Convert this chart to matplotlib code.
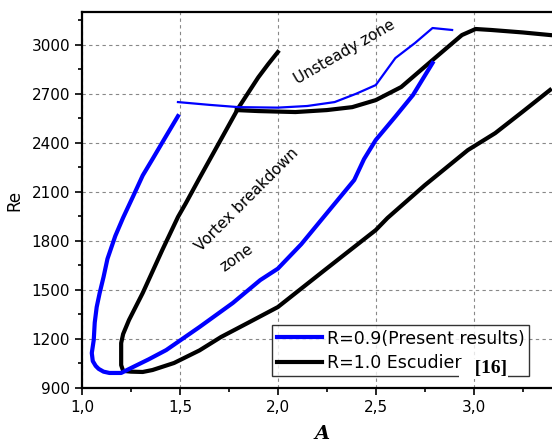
import matplotlib.pyplot as plt
from matplotlib.ticker import MultipleLocator, FuncFormatter

# blue (present results), lower thick branch
blue_x = [1.49, 1.42, 1.36, 1.31, 1.26, 1.21, 1.17, 1.13, 1.11, 1.09, 1.075, 1.065, 1.06, 1.05, 1.055, 1.07,
          1.085, 1.11, 1.14, 1.20, 1.26, 1.34, 1.43, 1.60, 1.77, 1.91, 2.00, 2.12, 2.23, 2.39, 2.44, 2.50,
          2.60, 2.69, 2.79]
blue_y = [2563, 2422, 2300, 2200, 2070, 1942, 1830, 1690, 1579, 1480, 1395, 1300, 1194, 1114, 1065, 1035,
          1017, 1000, 992, 992, 1028, 1075, 1132, 1273, 1420, 1560, 1630, 1780, 1940, 2172, 2300, 2417,
          2560, 2692, 2888]
# blue thin upper branch
blue_top_x = [1.49, 1.65, 1.80, 2.00, 2.15, 2.29, 2.40, 2.50, 2.60, 2.70, 2.79, 2.89]
blue_top_y = [2649, 2632, 2618, 2615, 2625, 2649, 2700, 2753, 2918, 3010, 3102, 3090]

# black (Escudier) lower branch
black_x = [2.00, 1.95, 1.90, 1.80, 1.70, 1.60, 1.53, 1.49, 1.41, 1.31, 1.24, 1.21, 1.20, 1.20, 1.21,
           1.25, 1.31, 1.36, 1.47, 1.60, 1.71, 1.85, 2.00, 2.24, 2.50, 2.56, 2.75, 2.97, 3.11, 3.25, 3.39]
black_y = [2955, 2880, 2800, 2616, 2400, 2184, 2030, 1946, 1744, 1481, 1316, 1230, 1175, 1040, 1005,
           1000, 998, 1010, 1053, 1130, 1212, 1300, 1395, 1622, 1866, 1940, 2140, 2355, 2459, 2590, 2723]
# black upper branch
black_top_x = [1.79, 1.90, 2.09, 2.25, 2.38, 2.50, 2.63, 2.79, 2.94, 3.01, 3.09, 3.25, 3.39]
black_top_y = [2600, 2594, 2588, 2600, 2618, 2661, 2741, 2906, 3059, 3096, 3090, 3075, 3059]

fig = plt.figure(figsize=(5.52, 4.45), dpi=100)
ax = fig.add_axes([82 / 552, 57 / 445, 470 / 552, 376 / 445])

ax.plot(black_x, black_y, color='black', lw=3.0, label='R=1.0 Escudier')
ax.plot(black_top_x, black_top_y, color='black', lw=3.0)
ax.plot(blue_x, blue_y, color='#0000ff', lw=3.0, label='R=0.9(Present results)')
ax.plot(blue_top_x, blue_top_y, color='#0000ff', lw=1.6)

ax.set_xlim(1.0, 3.4)
ax.set_ylim(900, 3200)
ax.xaxis.set_major_locator(MultipleLocator(0.5))
ax.xaxis.set_minor_locator(MultipleLocator(0.25))
ax.yaxis.set_major_locator(MultipleLocator(300))
ax.yaxis.set_minor_locator(MultipleLocator(150))
ax.xaxis.set_major_formatter(FuncFormatter(lambda v, p: ('%.1f' % v).replace('.', ',')))
ax.tick_params(which='major', direction='out', length=5, width=1.2, labelsize=11)
ax.tick_params(which='minor', direction='out', length=3, width=1.2)
ax.grid(True, which='major', ls=(0, (3, 3)), color='#888888', lw=0.8)
ax.spines['right'].set_visible(False)
for s in ['left', 'bottom', 'top']:
    ax.spines[s].set_linewidth(1.6)

ax.set_ylabel('Re', fontsize=12, labelpad=6)
fig.text(322 / 552, 1 - 434 / 445, 'A', fontsize=14, fontstyle='italic', fontweight='bold',
         family='DejaVu Serif', ha='center', va='center')

ax.text(2.34, 2955, 'Unsteady zone', rotation=30, fontsize=11, ha='center', va='center')
ax.text(1.84, 2050, 'Vortex breakdown', rotation=45, fontsize=11, ha='center', va='center')
ax.text(1.79, 1695, 'zone', rotation=35, fontsize=11, ha='center', va='center')

h, l = ax.get_legend_handles_labels()
leg = ax.legend(h[::-1], l[::-1], loc='lower left', bbox_to_anchor=(0.405, 0.032),
                fontsize=12.5, handlelength=2.6, frameon=True, fancybox=False,
                borderpad=0.25, labelspacing=0.35, handletextpad=0.3, borderaxespad=0)
leg.get_frame().set_edgecolor('black')
leg.get_frame().set_linewidth(1.0)
ax.text(507, 445 - 369, '   [16]', transform=None, fontsize=14, fontweight='bold',
        family='Liberation Serif', ha='right', va='center',
        bbox=dict(facecolor='white', edgecolor='none', pad=1), zorder=10)

fig.savefig('out.png', dpi=100)
